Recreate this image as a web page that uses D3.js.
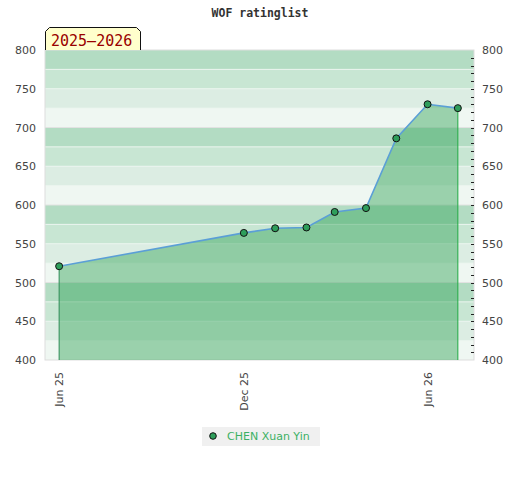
<!DOCTYPE html>
<html>
<head>
<meta charset="utf-8">
<script src="https://cdn.jsdelivr.net/npm/d3@7"></script>
<style>
  body { margin: 0; background: #fff; }
  svg { display: block; }
</style>
</head>
<body>
<svg id="chart" width="520" height="480"></svg>
<script>
// monthly ratings, first of each month
var dates = ["2025-06-01", "2025-12-01", "2026-01-01", "2026-02-01", "2026-03-01",
             "2026-04-01", "2026-05-01", "2026-06-01", "2026-07-01"];
var ratings = [521, 564, 570, 571, 591, 596, 686, 730, 725];
var yTicks = [400, 450, 500, 550, 600, 650, 700, 750, 800];
var xTicks = ["2025-06-01", "2025-12-01", "2026-06-01"];
var playerName = "CHEN Xuan Yin";
var seasonLabel = "2025\u20132026";
var chartTitle = "WOF ratinglist";

var parse = d3.timeParse("%Y-%m-%d");
var data = dates.map(function (d, i) {
    return { date: parse(d), rating: ratings[i] };
});

// plot box (window.top is reserved, so no bare "top")
var plotL = 45, plotR = 474, plotT = 50, plotB = 360;
var svg = d3.select("#chart");

var x = d3.scaleTime()
    .domain([parse("2025-05-18"), parse("2026-07-17")])
    .range([plotL, plotR]);
var y = d3.scaleLinear()
    .domain([400, 800])
    .range([plotB, plotT]);

// background bands, 4 per hundred, darkest at top of each hundred
var bandColors = ["#b3dcc3", "#c8e6d3", "#dcede3", "#eff7f2"];
var bands = d3.range(800, 400, -25);
svg.append("g").selectAll("rect")
    .data(bands)
    .enter()
    .append("rect")
    .attr("x", plotL)
    .attr("y", function (d) { return y(d); })
    .attr("width", plotR - plotL)
    .attr("height", function (d) { return y(d - 25) - y(d); })
    .style("fill", function (d) { return bandColors[((800 - d) / 25) % 4]; });

svg.append("g").selectAll("line")
    .data(bands.slice(1))
    .enter()
    .append("line")
    .attr("x1", plotL).attr("x2", plotR)
    .attr("y1", function (d) { return y(d); })
    .attr("y2", function (d) { return y(d); })
    .style("stroke", function (d) { return d % 100 === 0 ? "#e2e2e2" : "#eaf4ee"; })
    .style("stroke-width", 1);

// frame
svg.append("rect")
    .attr("x", plotL).attr("y", plotT)
    .attr("width", plotR - plotL).attr("height", plotB - plotT)
    .style("fill", "none")
    .style("stroke", "#dddddd");

// area under the line
var area = d3.area()
    .x(function (d) { return x(d.date); })
    .y0(plotB)
    .y1(function (d) { return y(d.rating); });
svg.append("path")
    .datum(data)
    .attr("d", area)
    .style("fill", "rgb(60,168,96)")
    .style("fill-opacity", 0.48);

// vertical edges at first and last points
var first = data[0], last = data[data.length - 1];
svg.append("line")
    .attr("x1", x(first.date)).attr("x2", x(first.date))
    .attr("y1", y(first.rating)).attr("y2", plotB)
    .style("stroke", "#2e8b57").style("stroke-width", 1);
svg.append("line")
    .attr("x1", x(last.date)).attr("x2", x(last.date))
    .attr("y1", y(last.rating)).attr("y2", plotB)
    .style("stroke", "#22aa44").style("stroke-width", 1);

var line = d3.line()
    .x(function (d) { return x(d.date); })
    .y(function (d) { return y(d.rating); });
svg.append("path")
    .datum(data)
    .attr("d", line)
    .style("fill", "none")
    .style("stroke", "#5b9fd6")
    .style("stroke-width", 1.6);

svg.append("g").selectAll("circle")
    .data(data)
    .enter()
    .append("circle")
    .attr("cx", function (d) { return x(d.date); })
    .attr("cy", function (d) { return y(d.rating); })
    .attr("r", 3.5)
    .style("fill", "#2e9e5b")
    .style("stroke", "#111")
    .style("stroke-width", 1);

// left axis labels
var fontAxis = "'DejaVu Sans', sans-serif";
svg.append("g").selectAll("text")
    .data(yTicks)
    .enter()
    .append("text")
    .attr("x", 36)
    .attr("y", function (d) { return y(d) + 4; })
    .attr("text-anchor", "end")
    .style("font-family", fontAxis)
    .style("font-size", "11px")
    .style("fill", "#444")
    .text(function (d) { return d; });

// right axis: small ticks every 10, labels every 50
svg.append("g").selectAll("line")
    .data(d3.range(410, 800, 10))
    .enter()
    .append("line")
    .attr("x1", plotR - 3).attr("x2", plotR)
    .attr("y1", function (d) { return Math.round(y(d)) + 0.5; })
    .attr("y2", function (d) { return Math.round(y(d)) + 0.5; })
    .style("stroke", "#222");
svg.append("g").selectAll("text")
    .data(yTicks)
    .enter()
    .append("text")
    .attr("x", 482)
    .attr("y", function (d) { return y(d) + 4; })
    .style("font-family", fontAxis)
    .style("font-size", "11px")
    .style("fill", "#444")
    .text(function (d) { return d; });

// x axis labels, rotated
var fmt = d3.timeFormat("%b %y");
svg.append("g").selectAll("text")
    .data(xTicks.map(parse))
    .enter()
    .append("text")
    .attr("transform", function (d) {
        return "translate(" + (x(d) + 4) + ",372) rotate(-90)";
    })
    .attr("text-anchor", "end")
    .style("font-family", fontAxis)
    .style("font-size", "11px")
    .style("fill", "#444")
    .text(fmt);

// title
svg.append("text")
    .attr("x", 260).attr("y", 17)
    .attr("text-anchor", "middle")
    .style("font-family", "'DejaVu Sans Mono', monospace")
    .style("font-weight", "bold")
    .style("font-size", "11.5px")
    .style("fill", "#333")
    .text(chartTitle);

// season tag
svg.append("path")
    .attr("d", "M45.5,50 L45.5,31.5 L49.5,27.5 L136.5,27.5 L140.5,31.5 L140.5,50")
    .style("fill", "#ffffcc")
    .style("stroke", "#111")
    .style("stroke-width", 1);
svg.append("text")
    .attr("x", 51).attr("y", 46)
    .style("font-family", "'DejaVu Sans Mono', monospace")
    .style("font-size", "15px")
    .style("fill", "#990000")
    .text(seasonLabel);

// legend
var legend = svg.append("g");
legend.append("rect")
    .attr("x", 202).attr("y", 427)
    .attr("width", 118).attr("height", 19)
    .style("fill", "#f0f0f0");
legend.append("circle")
    .attr("cx", 213).attr("cy", 436)
    .attr("r", 3.3)
    .style("fill", "#2e9e5b")
    .style("stroke", "#111");
legend.append("text")
    .attr("x", 227).attr("y", 440)
    .style("font-family", fontAxis)
    .style("font-size", "11px")
    .style("fill", "#3cb064")
    .text(playerName);
</script>
</body>
</html>
